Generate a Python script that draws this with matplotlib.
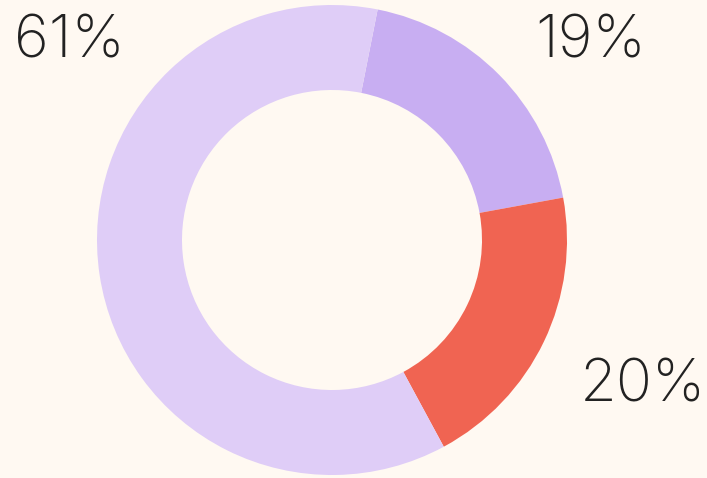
import matplotlib.pyplot as plt

labels = ['19%', '20%', '61%']
shares = [19, 20, 61]
colors = ['#C8AEF2', '#F06452', '#DFCDF7']
label_pos = [(535, 57), (580, 402), (14, 57)]  # left / baseline, pixel coords from top

W, H = 707, 478
fig = plt.figure(figsize=(W / 100, H / 100), dpi=100)
fig.patch.set_facecolor('#FFF9F2')
ax = fig.add_axes([0, 0, 1, 1])
ax.set_facecolor('#FFF9F2')

cx, cy, r = 332, H - 240, 235
ax.pie(shares, colors=colors, startangle=78.8, counterclock=False,
       radius=r, center=(cx, cy), frame=True,
       wedgeprops=dict(width=85, linewidth=0))
ax.set_xlim(0, W)
ax.set_ylim(0, H)
ax.set_aspect('equal')
ax.axis('off')

for lab, (x, y) in zip(labels, label_pos):
    ax.text(x, H - y, lab, fontsize=43, family='Inter', fontweight='light',
            color='#222222', ha='left', va='baseline')

fig.savefig('out.png', dpi=100, facecolor=fig.get_facecolor())
